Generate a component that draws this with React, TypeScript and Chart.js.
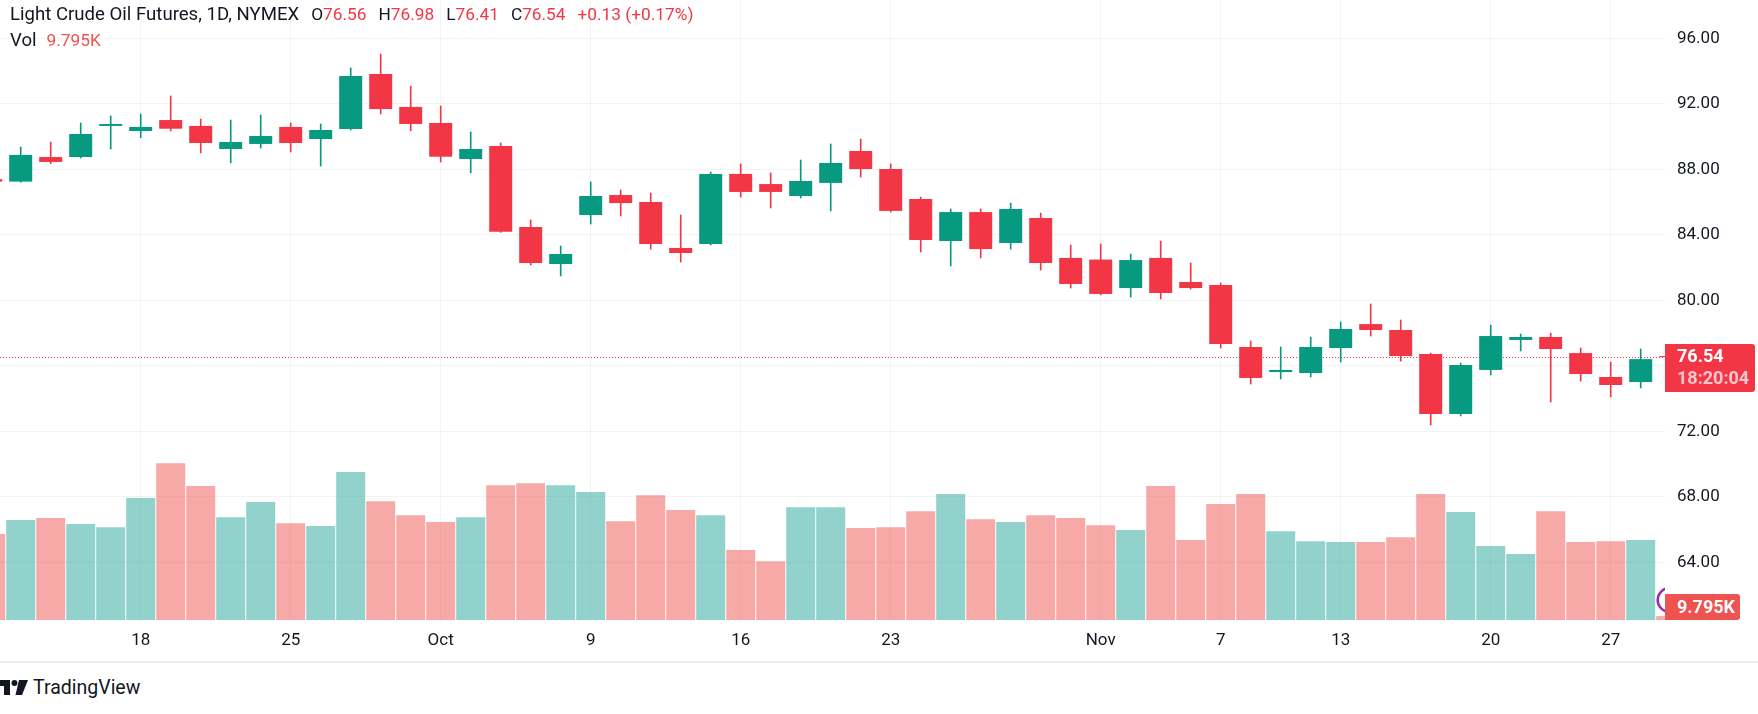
import React, { useEffect, useRef } from 'react';
import { Chart, registerables } from 'chart.js';

Chart.register(...registerables);

// ---- data ----
const dates = [
  '2023-09-11', '2023-09-12', '2023-09-13', '2023-09-14', '2023-09-15',
  '2023-09-18', '2023-09-19', '2023-09-20', '2023-09-21', '2023-09-22',
  '2023-09-25', '2023-09-26', '2023-09-27', '2023-09-28', '2023-09-29',
  '2023-10-02', '2023-10-03', '2023-10-04', '2023-10-05', '2023-10-06',
  '2023-10-09', '2023-10-10', '2023-10-11', '2023-10-12', '2023-10-13',
  '2023-10-16', '2023-10-17', '2023-10-18', '2023-10-19', '2023-10-20',
  '2023-10-23', '2023-10-24', '2023-10-25', '2023-10-26', '2023-10-27',
  '2023-10-30', '2023-10-31', '2023-11-01', '2023-11-02', '2023-11-03',
  '2023-11-06', '2023-11-07', '2023-11-08', '2023-11-09', '2023-11-10',
  '2023-11-13', '2023-11-14', '2023-11-15', '2023-11-16', '2023-11-17',
  '2023-11-20', '2023-11-21', '2023-11-22', '2023-11-24', '2023-11-27',
  '2023-11-28', '2023-11-29',
];

const opens = [
  87.40, 87.25, 88.75, 88.75, 90.65,
  90.34, 91.01, 90.65, 89.24, 89.55,
  90.59, 89.85, 90.46, 93.82, 91.81,
  90.83, 88.63, 89.43, 84.48, 82.22,
  85.21, 86.43, 86.00, 83.20, 83.44,
  87.72, 87.10, 86.37, 87.17, 89.12,
  88.02, 86.19, 83.62, 85.39, 83.50,
  85.03, 82.59, 82.49, 80.75, 82.59,
  81.12, 80.94, 77.15, 75.62, 75.56,
  77.09, 78.55, 78.19, 76.72, 73.06,
  75.75, 77.58, 77.76, 76.78, 75.32,
  75.01, 76.56,
];

const highs = [
  87.60, 89.36, 89.67, 90.83, 91.26,
  91.38, 92.48, 91.07, 91.01, 91.32,
  90.83, 90.77, 94.19, 95.04, 93.09,
  91.87, 90.28, 89.61, 84.91, 83.32,
  87.23, 86.74, 86.55, 85.21, 87.84,
  88.33, 87.78, 88.57, 89.55, 89.85,
  88.33, 86.31, 85.58, 85.58, 85.94,
  85.33, 83.38, 83.44, 82.83, 83.62,
  82.28, 81.06, 77.52, 77.15, 77.76,
  78.68, 79.78, 78.80, 76.78, 76.17,
  78.49, 77.94, 78.00, 77.09, 76.23,
  77.03, 76.98,
];

const lows = [
  87.10, 87.22, 88.35, 88.69, 89.24,
  89.93, 90.34, 89.00, 88.39, 89.30,
  89.06, 88.20, 90.40, 91.38, 90.34,
  88.45, 87.78, 84.15, 82.16, 81.49,
  84.66, 85.15, 83.13, 82.34, 83.38,
  86.31, 85.64, 86.25, 85.46, 87.53,
  85.39, 82.95, 82.10, 82.59, 83.13,
  81.85, 80.75, 80.33, 80.20, 80.08,
  80.69, 77.09, 74.89, 75.20, 75.32,
  76.23, 77.82, 76.29, 72.39, 72.94,
  75.44, 76.91, 73.79, 75.07, 74.10,
  74.65, 76.41,
];

const closes = [
  87.25, 88.88, 88.45, 90.16, 90.77,
  90.59, 90.48, 89.61, 89.67, 90.04,
  89.61, 90.40, 93.70, 91.68, 90.77,
  88.77, 89.24, 84.19, 82.28, 82.83,
  86.37, 85.94, 83.44, 82.89, 87.72,
  86.62, 86.62, 87.29, 88.39, 88.02,
  85.46, 83.68, 85.39, 83.13, 85.58,
  82.28, 81.00, 80.39, 82.46, 80.45,
  80.75, 77.33, 75.26, 75.75, 77.15,
  78.25, 78.19, 76.60, 73.06, 76.05,
  77.82, 77.76, 77.03, 75.50, 74.83,
  76.41, 76.54,
];

// volume in thousands of contracts
const volumesK = [
  215, 250, 255, 240, 232,
  305, 392, 335, 257, 295,
  242, 235, 370, 297, 262,
  245, 257, 337, 342, 337,
  320, 247, 312, 275, 262,
  175, 147, 282, 282, 230,
  232, 272, 315, 252, 245,
  262, 255, 237, 225, 335,
  200, 290, 315, 222, 197,
  195, 195, 207, 315, 270,
  185, 165, 272, 195, 197,
  200, 9.795,
];

const xTickDates = [
  '2023-09-18', '2023-09-25', '2023-10-02', '2023-10-09', '2023-10-16', '2023-10-23',
  '2023-11-01', '2023-11-07', '2023-11-13', '2023-11-20', '2023-11-27',
];
const xTickTexts = ['18', '25', 'Oct', '9', '16', '23', 'Nov', '7', '13', '20', '27'];

const symbolTitle = 'Light Crude Oil Futures, 1D, NYMEX';
const countdownText = '18:20:04';

// ---- styles ----
const UP = '#089981';
const DOWN = '#F23645';
const VOL_UP = 'rgba(38,166,154,0.5)';
const VOL_DOWN = 'rgba(239,83,80,0.5)';
const GRID = 'rgba(42,46,57,0.06)';
const TEXT = '#131722';
const FONT = 'Roboto, "Noto Sans", "DejaVu Sans", sans-serif';
const FONT_SIZE = 17;

export default function App() {
  const ref = useRef<HTMLCanvasElement | null>(null);

  const last = dates.length - 1;
  const change = closes[last] - closes[last - 1];
  const pct = (change / closes[last - 1]) * 100;
  const lastUp = closes[last] >= opens[last];
  const headColor = lastUp ? UP : DOWN;
  const sign = change >= 0 ? '+' : '';
  const volText = volumesK[last].toFixed(3) + 'K';

  useEffect(() => {
    const canvas = ref.current;
    if (!canvas) return;
    const isUp = closes.map((c, i) => c >= opens[i]);

    const overlay = {
      id: 'tvOverlay',
      beforeDatasetsDraw(chart: any) {
        const { ctx, chartArea: a, scales } = chart;
        const y = Math.round(scales.y.getPixelForValue(closes[last])) + 0.5;
        ctx.save();
        ctx.beginPath();
        ctx.rect(a.left, a.top, a.right - a.left, a.bottom - a.top);
        ctx.clip();
        ctx.strokeStyle = lastUp ? UP : DOWN;
        ctx.lineWidth = 1;
        ctx.setLineDash([1, 2]);
        ctx.beginPath();
        ctx.moveTo(a.left, y);
        ctx.lineTo(a.right, y);
        ctx.stroke();
        ctx.restore();
      },
      afterDatasetsDraw(chart: any) {
        const { ctx, chartArea: a, scales } = chart;
        ctx.save();
        ctx.beginPath();
        ctx.rect(a.left, a.top, a.right - a.left, a.bottom - a.top);
        ctx.clip();
        const cx = scales.x.getPixelForValue(last) - 1;
        const cy = a.bottom - 20;
        ctx.beginPath();
        ctx.arc(cx, cy, 12, 0, Math.PI * 2);
        ctx.fillStyle = '#ffffff';
        ctx.fill();
        ctx.lineWidth = 2.5;
        ctx.strokeStyle = '#9c27b0';
        ctx.stroke();
        ctx.restore();
      },
      afterDraw(chart: any) {
        const { ctx, chartArea: a, scales } = chart;
        const y = scales.y.getPixelForValue(closes[last]);
        ctx.save();
        // last price label
        const bx = a.right;
        const bw = 90;
        const top = y - 13;
        const h = 48;
        ctx.fillStyle = lastUp ? UP : DOWN;
        ctx.beginPath();
        ctx.moveTo(bx, top);
        ctx.lineTo(bx + bw - 3, top);
        ctx.quadraticCurveTo(bx + bw, top, bx + bw, top + 3);
        ctx.lineTo(bx + bw, top + h - 3);
        ctx.quadraticCurveTo(bx + bw, top + h, bx + bw - 3, top + h);
        ctx.lineTo(bx, top + h);
        ctx.closePath();
        ctx.fill();
        ctx.textAlign = 'left';
        ctx.textBaseline = 'middle';
        ctx.font = `bold ${FONT_SIZE + 1}px ${FONT}`;
        ctx.fillStyle = '#ffffff';
        ctx.fillText(closes[last].toFixed(2), bx + 12, y + 1);
        ctx.fillStyle = 'rgba(255,255,255,0.72)';
        ctx.fillText(countdownText, bx + 12, y + 23);

        // volume label
        const vh = 26;
        const vw = 75;
        const vTop = a.bottom - vh;
        ctx.fillStyle = lastUp ? '#26a69a' : '#ef5350';
        ctx.beginPath();
        ctx.moveTo(bx, vTop);
        ctx.lineTo(bx + vw - 3, vTop);
        ctx.quadraticCurveTo(bx + vw, vTop, bx + vw, vTop + 3);
        ctx.lineTo(bx + vw, vTop + vh - 3);
        ctx.quadraticCurveTo(bx + vw, vTop + vh, bx + vw - 3, vTop + vh);
        ctx.lineTo(bx, vTop + vh);
        ctx.closePath();
        ctx.fill();
        ctx.fillStyle = '#ffffff';
        ctx.font = `bold ${FONT_SIZE + 1}px ${FONT}`;
        ctx.fillText(volText, bx + 12, vTop + vh / 2 + 1);
        ctx.restore();
      },
    };

    const chart = new Chart(canvas, {
      type: 'bar',
      data: {
        datasets: [
          {
            label: 'Body',
            data: dates.map((_, i) => ({ x: i, y: [opens[i], closes[i]] })) as any,
            backgroundColor: isUp.map((u) => (u ? UP : DOWN)),
            borderWidth: 0,
            barPercentage: 23 / 30,
            categoryPercentage: 1,
            grouped: false,
            minBarLength: 1,
            order: 1,
            clip: 0 as any,
            xAxisID: 'x',
            yAxisID: 'y',
          },
          {
            label: 'Wick',
            data: dates.map((_, i) => ({ x: i, y: [lows[i], highs[i]] })) as any,
            backgroundColor: isUp.map((u) => (u ? UP : DOWN)),
            borderWidth: 0,
            barThickness: 1,
            grouped: false,
            order: 2,
            clip: 0 as any,
            xAxisID: 'x',
            yAxisID: 'y',
          },
          {
            label: 'Volume',
            data: dates.map((_, i) => ({ x: i, y: volumesK[i] })) as any,
            backgroundColor: isUp.map((u) => (u ? VOL_UP : VOL_DOWN)),
            borderWidth: 0,
            barPercentage: 29 / 30,
            categoryPercentage: 1,
            grouped: false,
            order: 3,
            clip: 0 as any,
            xAxisID: 'x',
            yAxisID: 'yv',
          },
        ],
      },
      options: {
        animation: false,
        responsive: false,
        events: [],
        layout: { padding: 0 },
        plugins: {
          legend: { display: false },
          tooltip: { enabled: false },
        },
        scales: {
          x: {
            type: 'linear',
            min: 0.31,
            max: 55.81,
            offset: false,
            grid: { offset: false, color: GRID, drawTicks: false, lineWidth: 1 },
            border: { display: false },
            afterBuildTicks: (s: any) => {
              s.ticks = xTickDates.map((d) => ({ value: dates.indexOf(d) }));
            },
            afterFit: (s: any) => {
              s.height = 42;
              s.paddingLeft = 0;
              s.paddingRight = 0;
              s.paddingTop = 0;
              s.paddingBottom = 0;
            },
            ticks: {
              autoSkip: false,
              maxRotation: 0,
              padding: 11,
              color: TEXT,
              font: { family: FONT, size: FONT_SIZE },
              callback: (_v: any, i: number) => xTickTexts[i],
            },
          },
          y: {
            type: 'linear',
            position: 'right',
            min: 60.48,
            max: 98.34,
            grid: { color: GRID, drawTicks: false },
            border: { display: false },
            afterFit: (s: any) => {
              s.width = 93;
              s.paddingLeft = 0;
              s.paddingRight = 0;
              s.paddingTop = 0;
              s.paddingBottom = 0;
            },
            ticks: {
              stepSize: 4,
              includeBounds: false,
              padding: 12,
              color: TEXT,
              font: { family: FONT, size: FONT_SIZE },
              callback: (v: any) => Number(v).toFixed(2),
            },
          },
          yv: {
            type: 'linear',
            display: false,
            min: 0,
            max: 1550,
          },
        },
      } as any,
      plugins: [overlay],
    });

    return () => {
      chart.destroy();
    };
  }, []);

  const gap = 12;
  const valSize = 17.3;
  return (
    <div
      style={{
        position: 'absolute',
        left: 0,
        top: 0,
        width: 1758,
        height: 714,
        background: '#ffffff',
        overflow: 'hidden',
        fontFamily: FONT,
      }}
    >
      <canvas ref={ref} width={1758} height={662} style={{ position: 'absolute', left: 0, top: 0, width: 1758, height: 662 }} />
      <div
        style={{
          position: 'absolute',
          left: 10,
          top: 1,
          fontSize: valSize,
          lineHeight: '26px',
          color: TEXT,
          whiteSpace: 'nowrap',
        }}
      >
        <div>
          <span style={{ fontSize: 18.6 }}>{symbolTitle}</span>
          <span style={{ marginLeft: gap }}>O<span style={{ color: headColor }}>{opens[last].toFixed(2)}</span></span>
          <span style={{ marginLeft: gap }}>H<span style={{ color: headColor }}>{highs[last].toFixed(2)}</span></span>
          <span style={{ marginLeft: gap }}>L<span style={{ color: headColor }}>{lows[last].toFixed(2)}</span></span>
          <span style={{ marginLeft: gap }}>C<span style={{ color: headColor }}>{closes[last].toFixed(2)}</span></span>
          <span style={{ marginLeft: gap, color: headColor }}>
            {sign}{change.toFixed(2)} ({sign}{pct.toFixed(2)}%)
          </span>
        </div>
        <div>
          <span style={{ fontSize: 18.6 }}>Vol</span>
          <span style={{ marginLeft: 10, color: lastUp ? '#26a69a' : '#ef5350' }}>{volText}</span>
        </div>
      </div>
      <div style={{ position: 'absolute', left: 0, top: 661, width: 1758, height: 2, background: '#eceef3' }} />
      <svg style={{ position: 'absolute', left: 0, top: 676 }} width={30} height={24} viewBox="0 0 30 24">
        <path d="M-6 4 H10 V19 H4 V10 H-6 Z" fill={TEXT} />
        <circle cx={14.5} cy={7} r={3} fill={TEXT} />
        <path d="M19 4 H28 L22 19 H15.5 Z" fill={TEXT} />
      </svg>
      <div
        style={{
          position: 'absolute',
          left: 33,
          top: 676,
          fontSize: 19.5,
          lineHeight: '24px',
          color: TEXT,
          whiteSpace: 'nowrap',
        }}
      >
        TradingView
      </div>
    </div>
  );
}
